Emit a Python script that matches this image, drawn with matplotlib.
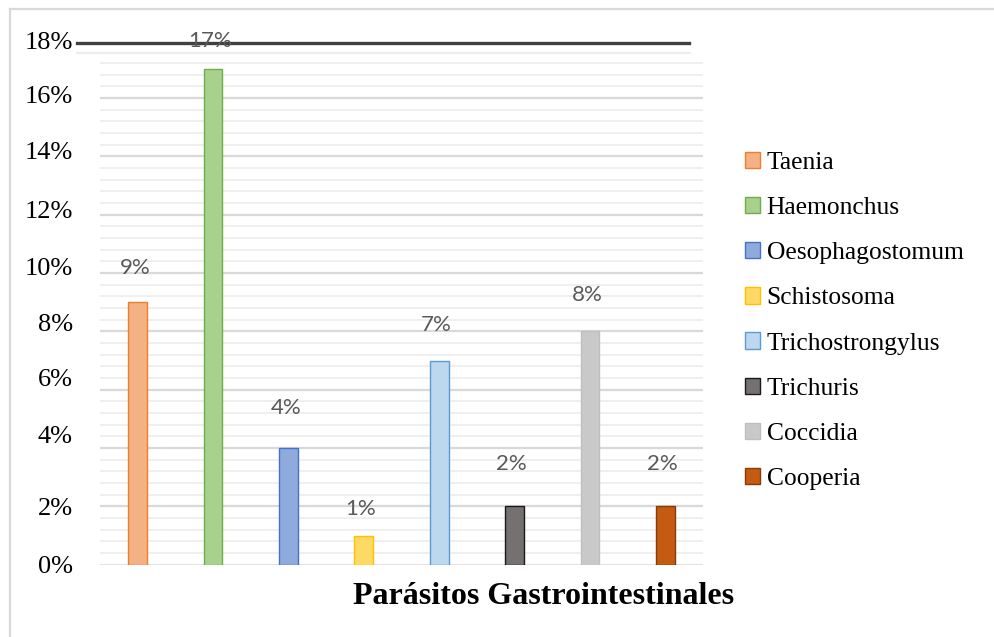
import numpy as np
import matplotlib
matplotlib.use("Agg")
import matplotlib.pyplot as plt
from matplotlib.patches import Rectangle
from matplotlib.lines import Line2D

# Parasite prevalence (%)
parasites = ["Taenia", "Haemonchus", "Oesophagostomum", "Schistosoma",
             "Trichostrongylus", "Trichuris", "Coccidia", "Cooperia"]
prevalence = [9, 17, 4, 1, 7, 2, 8, 2]

fill_colors = ["#F4B183", "#A9D18E", "#8FAADC", "#FFD966",
               "#BDD7EE", "#767171", "#C9C9C9", "#C55A11"]
edge_colors = ["#ED7D31", "#70AD47", "#4472C4", "#FFC000",
               "#5B9BD5", "#1A1A1A", "#BFBFBF", "#843C0C"]

# y-axis labels and where they sit on the value axis
tick_labels = ["0%", "2%", "4%", "6%", "8%", "10%", "12%", "14%", "16%", "18%"]
tick_label_pos = [0.0, 2.0, 4.46, 6.42, 8.29, 10.24, 12.19, 14.21, 16.12, 17.98]

# vertical gap (px) between each bar top and its value label
label_gap_px = [34, 28, 40, 27, 36, 42, 36, 42]

W, H, DPI = 994, 637, 100
fig = plt.figure(figsize=(W / DPI, H / DPI), dpi=DPI)
fig.patch.set_facecolor("white")

serif = "Liberation Serif"

ax_left, ax_right = 100, 703
ax_top, ax_bottom = 39.7, 564.7
ax = fig.add_axes([ax_left / W, (H - ax_bottom) / H,
                   (ax_right - ax_left) / W, (ax_bottom - ax_top) / H])
ax.set_xlim(-0.5, len(parasites) - 0.5)
ax.set_ylim(0, 18)
for s in ax.spines.values():
    s.set_visible(False)
ax.set_xticks([])

# gridlines: minor every 0.4 %, major every 2 %
for v in np.arange(0.4, 17.3, 0.4):
    major = abs(v / 2 - round(v / 2)) < 1e-6
    ax.axhline(v, color="#D9D9D9" if major else "#EFEFEF",
               lw=1.6 if major else 1.4, zorder=0)
ax.axhline(0, color="#D9D9D9", lw=1.8, zorder=0)
x0 = (77 - ax_left) / (ax_right - ax_left)
x1 = (690 - ax_left) / (ax_right - ax_left)
ax.axhline(17.55, xmin=x0, xmax=x1, color="#EDEDED", lw=1.6, clip_on=False, zorder=0)
ax.axhline(17.9, xmin=x0, xmax=x1 - 0.002, color="#404040", lw=2.4, clip_on=False, zorder=3)

x = np.arange(len(parasites))
ax.bar(x, prevalence, width=0.25, color=fill_colors, edgecolor=edge_colors,
       linewidth=1.0, zorder=2)

for xi, v, gap in zip(x, prevalence, label_gap_px):
    ax.annotate(f"{v}%", (xi, v), xytext=(-2, gap * 72 / DPI),
                textcoords="offset points", ha="center", va="center",
                fontsize=16, color="#595959", family="Lato", zorder=4)

ax.set_yticks(tick_label_pos, labels=tick_labels)
ax.tick_params(axis="y", length=0, pad=27 * 72 / DPI)
for t in ax.get_yticklabels():
    t.set_fontfamily(serif)
    t.set_fontsize(19)
    t.set_color("#000000")

# legend
handles = [Rectangle((0, 0), 1, 1, facecolor=fc, edgecolor=ec, lw=1.0)
           for fc, ec in zip(fill_colors, edge_colors)]
leg = fig.legend(handles, parasites, loc="upper left",
                 bbox_to_anchor=(745 / W, 1 - 152 / H),
                 frameon=False, prop={"family": serif, "size": 18.4},
                 handlelength=0.6, handleheight=0.6, handletextpad=0.25,
                 labelspacing=0.9, borderpad=0, borderaxespad=0)

# title under the plot
fig.text(544 / W, 1 - 597 / H, "Parásitos Gastrointestinales", ha="center",
         va="center", fontsize=23, fontweight="bold", family=serif)

# outer frame (top and left edges)
fig.add_artist(Line2D([9.5 / W, 1], [1 - 9 / H, 1 - 9 / H], color="#D9D9D9",
                      lw=1.6, transform=fig.transFigure))
fig.add_artist(Line2D([9.5 / W, 9.5 / W], [0, 1 - 9 / H], color="#D9D9D9",
                      lw=1.6, transform=fig.transFigure))

fig.savefig("out.png", dpi=DPI, facecolor="white")
